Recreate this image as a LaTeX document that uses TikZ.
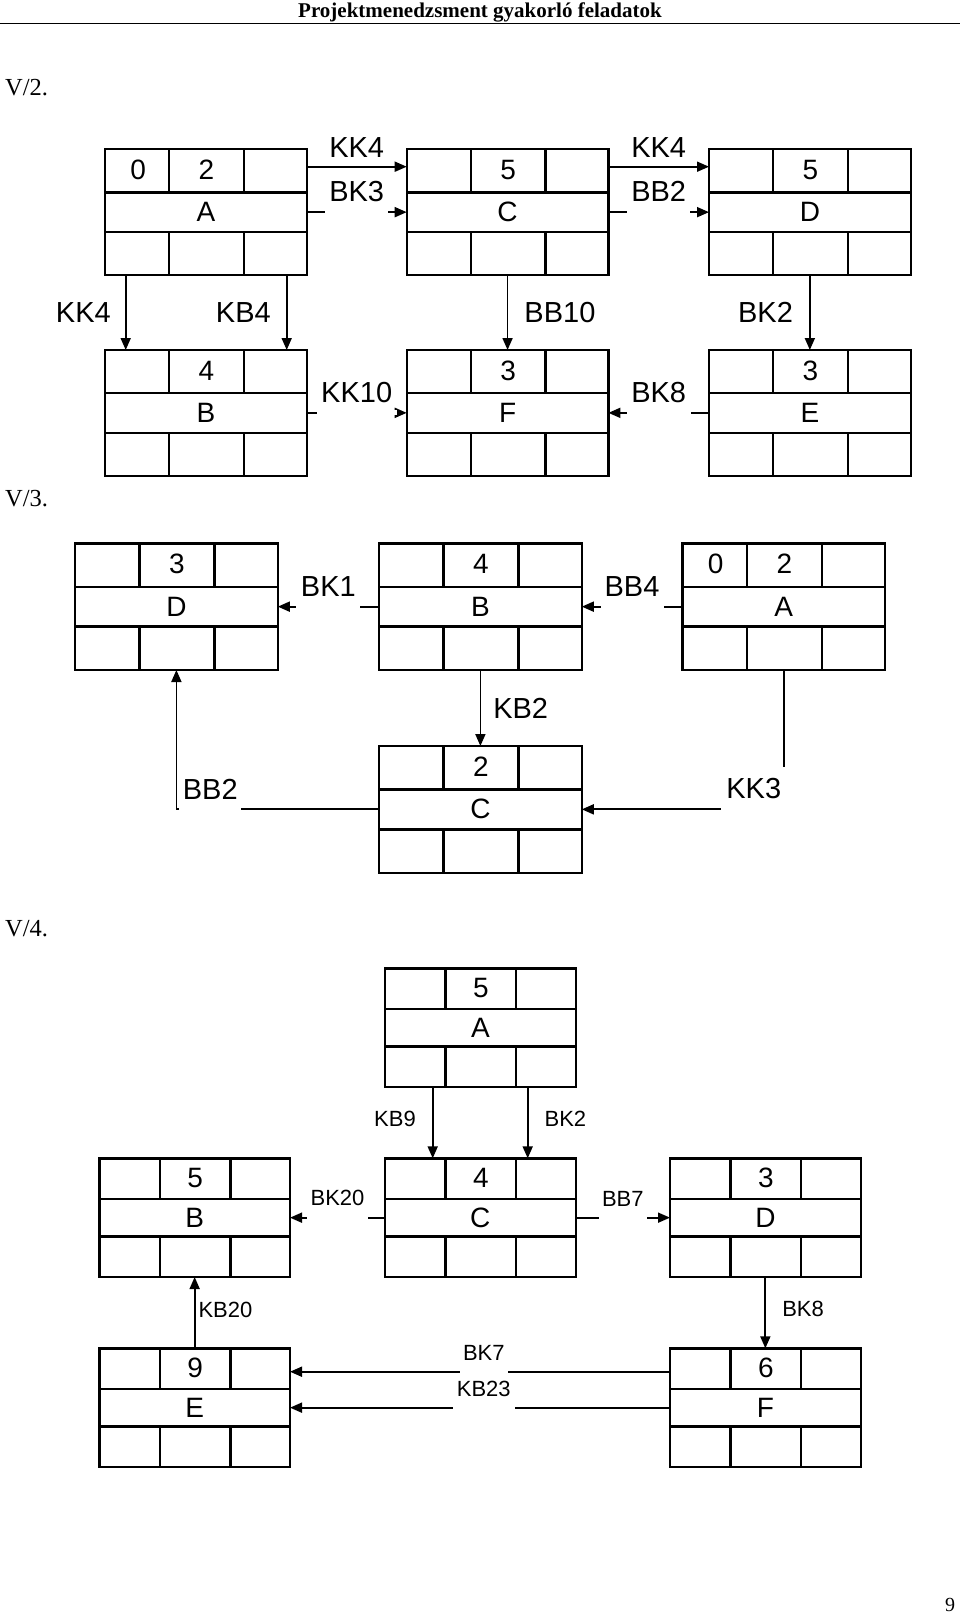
\documentclass[tikz,border=0pt]{standalone}
\usepackage{fontspec}
\setmainfont{Liberation Serif}
\setsansfont{Liberation Sans}
\usetikzlibrary{arrows.meta,positioning,calc}
\tikzset{taskframe/.style={draw,line width=2.4pt,inner sep=0pt,outer sep=0pt,anchor=north west},cell/.style={line width=2.4pt},arr/.style={-{Triangle[length=12pt,width=10pt]},line width=1.8pt},boxtxt/.style={font=\sffamily\fontsize{28}{28}\selectfont,inner sep=0pt},lab/.style={font=\sffamily\fontsize{29}{29}\selectfont,inner sep=0pt},labsmall/.style={font=\sffamily\fontsize{22}{22}\selectfont,inner sep=0pt},gapmask/.style={fill=white,inner sep=0pt,minimum height=5pt,minimum width=#1},cornerlab/.style={lab,fill=white,minimum width=62pt,minimum height=43pt},sechead/.style={font=\fontsize{24.5}{24.5}\selectfont,inner sep=0pt,anchor=base west}}
\newcommand{\bw}{201.7}
\newcommand{\bh}{125.7}
\newcommand{\taskbox}[6]{%
  \begin{scope}[shift={(#2,#3)}]
    \node[taskframe,minimum width=\bw pt,minimum height=\bh pt] (#1) at (0,0) {};
    \draw[cell] (0,{0.343*\bh}) -- (\bw,{0.343*\bh}) (0,{0.658*\bh}) -- (\bw,{0.658*\bh});
    \foreach \c in {0.318,0.688}
      \draw[cell] ({\c*\bw},0) -- ({\c*\bw},{0.343*\bh}) ({\c*\bw},{0.658*\bh}) -- ({\c*\bw},\bh);
    \node[boxtxt] at ({0.165*\bw},{0.165*\bh}) {#4};
    \node[boxtxt] at ({0.503*\bw},{0.165*\bh}) {#5};
    \node[boxtxt] at ({0.5*\bw},{0.5*\bh}) {#6};
  \end{scope}}

\begin{document}
\begin{tikzpicture}[x=1pt,y=-1pt]
\useasboundingbox (0,0) rectangle (960,1613);
\node[font=\bfseries\fontsize{21}{21}\selectfont,inner sep=0pt,anchor=base] (title) at (480,17.3) {Projektmenedzsment gyakorló feladatok};
\draw[line width=1.8pt] (0,23.5) -- (960,23.5);
\node[sechead] (v2head) at (5,96) {V/2.};
\node[sechead] (v3head) at (5,506) {V/3.};
\node[sechead] (v4head) at (5,936) {V/4.};
\node[font=\fontsize{20}{20}\selectfont,inner sep=0pt,anchor=base] (pagenum) at (950,1611) {9};

\taskbox{v2a}{105}{149.3}{0}{2}{A}
\taskbox{v2c}{406.7}{149.3}{}{5}{C}
\taskbox{v2d}{709}{149.3}{}{5}{D}
\taskbox{v2b}{105}{350}{}{4}{B}
\taskbox{v2f}{406.7}{350}{}{3}{F}
\taskbox{v2e}{709}{350}{}{3}{E}
\draw[arr] ($(v2a.north east)+(0,17.4)$) -- node[lab,above=8pt] {KK4} ($(v2c.north west)+(0,17.4)$);
\draw[arr] (v2a.east) -- node[gapmask=63pt] {} node[lab,above=9.6pt] {BK3} (v2c.west);
\draw[arr] ($(v2c.north east)+(0,17.4)$) -- node[lab,above=8pt] {KK4} ($(v2d.north west)+(0,17.4)$);
\draw[arr] (v2c.east) -- node[gapmask=63pt] {} node[lab,above=9.6pt] {BB2} (v2d.west);
\draw[arr] ($(v2a.south west)+(20.7,0)$) -- node[lab,left=14pt] {KK4} ($(v2b.north west)+(20.7,0)$);
\draw[arr] ($(v2a.south west)+(181.7,0)$) -- node[lab,left=15pt] {KB4} ($(v2b.north west)+(181.7,0)$);
\draw[arr] (v2c.south) -- node[lab,right=16pt] {BB10} (v2f.north);
\draw[arr] (v2d.south) -- node[lab,left=16pt] {BK2} (v2e.north);
\draw[arr] (v2b.east) -- node[gapmask=80pt] {} node[lab,above=9.6pt] {KK10} (v2f.west);
\draw[arr] (v2e.west) -- node[gapmask=64pt] {} node[lab,above=9.6pt] {BK8} (v2f.east);

\renewcommand{\bw}{202.8}
\renewcommand{\bh}{126.7}
\taskbox{v3d}{75}{543.3}{}{3}{D}
\taskbox{v3b}{379}{543.3}{}{4}{B}
\taskbox{v3a}{682.3}{543.3}{0}{2}{A}
\taskbox{v3c}{379}{746}{}{2}{C}
\draw[arr] (v3b.west) -- node[gapmask=64pt] {} node[lab,above=9.6pt] {BK1} (v3d.east);
\draw[arr] (v3a.west) -- node[gapmask=63pt] {} node[lab,above=9.6pt] {BB4} (v3b.east);
\draw[arr] (v3b.south) -- node[lab,right=12pt] {KB2} (v3c.north);
\draw[arr] (v3c.west) -| node[cornerlab,anchor=south west,xshift=2pt,yshift=-2pt] {BB2} (v3d.south);
\draw[arr] (v3a.south) |- node[cornerlab,minimum width=65pt,anchor=south east,xshift=3.5pt,yshift=-2pt] {KK3} (v3c.east);

\renewcommand{\bw}{190.7}
\renewcommand{\bh}{118.7}
\taskbox{v4a}{385}{968.3}{}{5}{A}
\taskbox{v4b}{99.3}{1158.3}{}{5}{B}
\taskbox{v4c}{385}{1158.3}{}{4}{C}
\taskbox{v4d}{670}{1158.3}{}{3}{D}
\taskbox{v4e}{99.3}{1348.3}{}{9}{E}
\taskbox{v4f}{670}{1348.3}{}{6}{F}
\draw[arr] ($(v4a.south west)+(47.7,0)$) -- node[labsmall,left=16pt,pos=0.45] {KB9} ($(v4c.north west)+(47.7,0)$);
\draw[arr] ($(v4a.south west)+(142.7,0)$) -- node[labsmall,right=16pt,pos=0.45] {BK2} ($(v4c.north west)+(142.7,0)$);
\draw[arr] (v4c.west) -- node[gapmask=61pt] {} node[labsmall,above=11.5pt] {BK20} (v4b.east);
\draw[arr] (v4c.east) -- node[gapmask=48pt] {} node[labsmall,above=10pt] {BB7} (v4d.west);
\draw[arr] (v4d.south) -- node[labsmall,right=16pt,pos=0.45] {BK8} (v4f.north);
\draw[arr] (v4e.north) -- node[labsmall,right=3pt,pos=0.54] {KB20} (v4b.south);
\draw[arr] ($(v4f.north west)+(0,23.4)$) -- node[gapmask=48pt,pos=0.49] {} node[labsmall,above=10.5pt,pos=0.49] {BK7} ($(v4e.north east)+(0,23.4)$);
\draw[arr] (v4f.west) -- node[gapmask=62pt,pos=0.49] {} node[labsmall,above=10.4pt,pos=0.49] {KB23} (v4e.east);
\end{tikzpicture}
\end{document}
